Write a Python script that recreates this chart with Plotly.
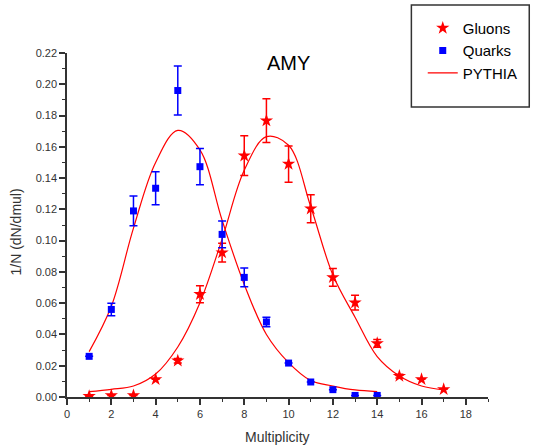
import plotly.graph_objects as go

# Data
quark_x = [1, 2, 3, 4, 5, 6, 7, 8, 9, 10, 11, 12, 13, 14]
quark_y = [0.026, 0.056, 0.119, 0.1335, 0.196, 0.1473, 0.104, 0.0765, 0.048, 0.0217, 0.0096, 0.0047, 0.001, 0.001]
quark_err = [0.0, 0.004, 0.0095, 0.0105, 0.0157, 0.0116, 0.0085, 0.006, 0.003, 0.0, 0.0, 0.0, 0.0, 0.0]

gluon_x = [1, 2, 3, 4, 5, 6, 7, 8, 9, 10, 11, 12, 13, 14, 15, 16, 17]
gluon_y = [0.0005, 0.001, 0.001, 0.0113, 0.0232, 0.0657, 0.0923, 0.1543, 0.1767, 0.149, 0.1204,
           0.0765, 0.0603, 0.0343, 0.0134, 0.0113, 0.0049]
gluon_err = [0.0, 0.0, 0.0, 0.0, 0.0015, 0.0055, 0.006, 0.0127, 0.014, 0.0116, 0.009,
             0.0057, 0.0047, 0.0025, 0.0012, 0.0, 0.0]

pyq_x = [1, 2, 3, 4, 5, 6, 7, 8, 9, 10, 11, 12, 13, 14]
pyq_y = [0.029, 0.058, 0.108, 0.150, 0.1705, 0.158, 0.113, 0.072, 0.040, 0.022, 0.0105, 0.007, 0.0045, 0.0035]

pyg_x = [1, 2, 3, 4, 5, 6, 7, 8, 9, 10, 11, 12, 13, 14, 15, 16, 17]
pyg_y = [0.0034, 0.0049, 0.007, 0.0147, 0.032, 0.0603, 0.101, 0.145, 0.1665, 0.161, 0.1217,
         0.078, 0.051, 0.0258, 0.0134, 0.007, 0.0045]

RED = "#FF0000"
BLUE = "#0000FF"
FONT = "Liberation Sans, Arial"

fig = go.Figure()

fig.add_trace(go.Scatter(x=pyq_x, y=pyq_y, mode="lines", line=dict(color=RED, width=1.2, shape="spline", smoothing=1.0),
                         showlegend=False, hoverinfo="skip"))
fig.add_trace(go.Scatter(x=pyg_x, y=pyg_y, mode="lines", line=dict(color=RED, width=1.2, shape="spline", smoothing=1.0),
                         showlegend=False, hoverinfo="skip"))

fig.add_trace(go.Scatter(x=gluon_x, y=gluon_y, mode="markers", name="Gluons",
                         marker=dict(symbol="star", size=10, color=RED, line=dict(width=0)),
                         error_y=dict(type="data", array=gluon_err, color=RED, thickness=1.5, width=4)))
fig.add_trace(go.Scatter(x=quark_x, y=quark_y, mode="markers", name="Quarks",
                         marker=dict(symbol="square", size=7, color=BLUE, line=dict(width=0)),
                         error_y=dict(type="data", array=quark_err, color=BLUE, thickness=1.5, width=4)))
# legend entry for PYTHIA
fig.add_trace(go.Scatter(x=[None], y=[None], mode="lines", name="PYTHIA", line=dict(color=RED, width=1.2)))

axis_common = dict(
    showline=True, linecolor="#333333", linewidth=1.5,
    ticks="outside", ticklen=6, tickwidth=1.5, tickcolor="#333333",
    showgrid=False, zeroline=False, mirror=False, automargin=False,
    tickfont=dict(family=FONT, size=11, color="#333333"),
)

fig.update_xaxes(range=[0, 19], dtick=2, tick0=0,
                 minor=dict(dtick=1, ticks="outside", ticklen=3, tickwidth=1.2, tickcolor="#333333"),
                 **axis_common)
fig.update_yaxes(range=[0, 0.22], dtick=0.02, tick0=0, tickformat=".2f",
                 minor=dict(dtick=0.01, ticks="outside", ticklen=3, tickwidth=1.2, tickcolor="#333333"),
                 **axis_common)

fig.add_annotation(text="AMY", xref="paper", yref="paper", x=0.527, y=0.97, yanchor="middle", showarrow=False,
                   font=dict(family=FONT, size=20, color="#000000"))
fig.add_annotation(text="Multiplicity", xref="paper", yref="paper", x=0.5, y=-0.116, yanchor="middle",
                   showarrow=False, font=dict(family=FONT, size=14, color="#333333"))
fig.add_annotation(text="1/N (dN/dmul)", xref="paper", yref="paper", x=-0.122, y=0.48, xanchor="center",
                   yanchor="middle", textangle=-90, showarrow=False, font=dict(family=FONT, size=14, color="#333333"))

# legend frame
fig.add_shape(type="rect", xref="paper", yref="paper", x0=0.818, x1=1.098, y0=0.843, y1=1.1395,
              line=dict(color="#333333", width=1.5), fillcolor="rgba(0,0,0,0)")

fig.update_layout(
    width=535, height=446,
    margin=dict(l=67, r=45, t=53, b=49),
    paper_bgcolor="white", plot_bgcolor="white",
    legend=dict(x=0.845, y=1.12, xanchor="left", yanchor="top", bgcolor="rgba(0,0,0,0)",
                borderwidth=0, font=dict(family=FONT, size=15, color="#000000"),
                tracegroupgap=0),
    font=dict(family=FONT),
)

fig.write_html("out.html")
